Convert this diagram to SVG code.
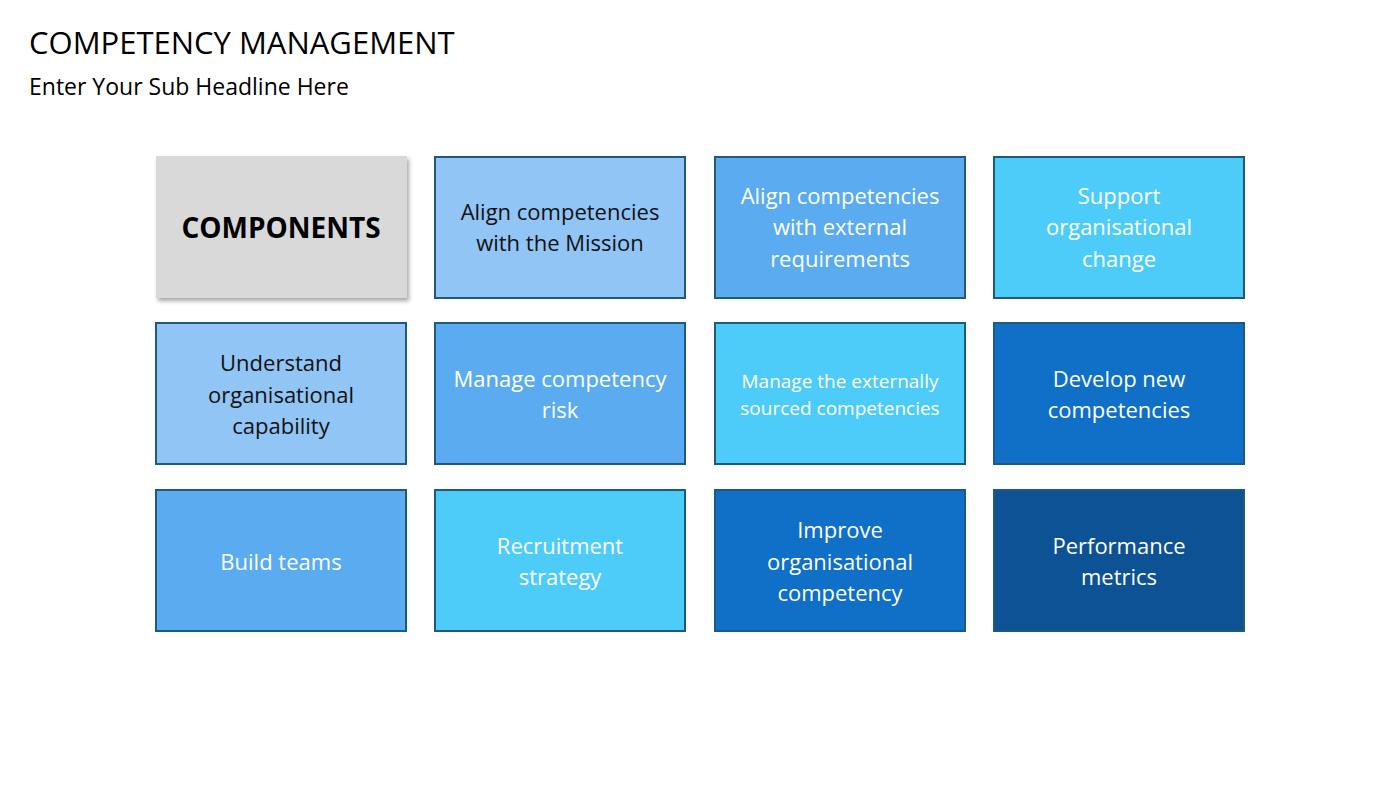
<svg xmlns="http://www.w3.org/2000/svg" width="1400" height="788" viewBox="0 0 1400 788">
<style>
text{font-family:"Open Sans","Liberation Sans",sans-serif;text-anchor:middle}
.b{stroke:#1d5a7c;stroke-width:2}
.t{font-size:22px;fill:#fff}
.d{font-size:22px;fill:#111}
</style>
<defs>
<filter id="sh" x="-10%" y="-10%" width="120%" height="125%"><feDropShadow dx="2" dy="3" stdDeviation="2" flood-color="#000" flood-opacity="0.35"/></filter>
<filter id="in"><feGaussianBlur stdDeviation="0"/></filter>
</defs>
<rect width="1400" height="788" fill="#fff"/>
<text x="29" y="54" style="text-anchor:start;font-size:31px;fill:#000">COMPETENCY MANAGEMENT</text>
<text x="29" y="95" style="text-anchor:start;font-size:23px;fill:#000">Enter Your Sub Headline Here</text>
<g id="n0"><rect x="156" y="156" width="251" height="142" fill="#d9d9d9" filter="url(#sh)"/><text x="281" y="238" style="font-size:28px;font-weight:bold;fill:#000">COMPONENTS</text></g>
<g id="n1"><rect x="435" y="157" width="250" height="141" fill="#91c5f5" class="b"/><text class="d" x="560" y="220">Align competencies</text><text class="d" x="560" y="251">with the Mission</text></g>
<g id="n2"><rect x="715" y="157" width="250" height="141" fill="#5aabf0" class="b"/><text class="t" x="840" y="204">Align competencies</text><text class="t" x="840" y="235">with external</text><text class="t" x="840" y="267">requirements</text></g>
<g id="n3"><rect x="994" y="157" width="250" height="141" fill="#4dccfa" class="b"/><text class="t" x="1119" y="204">Support</text><text class="t" x="1119" y="235">organisational</text><text class="t" x="1119" y="267">change</text></g>
<g id="n4"><rect x="156" y="323" width="250" height="141" fill="#91c5f5" class="b"/><text class="d" x="281" y="371">Understand</text><text class="d" x="281" y="403">organisational</text><text class="d" x="281" y="434">capability</text></g>
<g id="n5"><rect x="435" y="323" width="250" height="141" fill="#5aabf0" class="b"/><text class="t" x="560" y="387">Manage competency</text><text class="t" x="560" y="418">risk</text></g>
<g id="n6"><rect x="715" y="323" width="250" height="141" fill="#4dccfa" class="b"/><text class="t" x="840" y="388" style="font-size:19px">Manage the externally</text><text class="t" x="840" y="415" style="font-size:19px">sourced competencies</text></g>
<g id="n7"><rect x="994" y="323" width="250" height="141" fill="#1070c8" class="b"/><text class="t" x="1119" y="387">Develop new</text><text class="t" x="1119" y="418">competencies</text></g>
<g id="n8"><rect x="156" y="490" width="250" height="141" fill="#5aabf0" class="b"/><text class="t" x="281" y="570">Build teams</text></g>
<g id="n9"><rect x="435" y="490" width="250" height="141" fill="#4dccfa" class="b"/><text class="t" x="560" y="554">Recruitment</text><text class="t" x="560" y="585">strategy</text></g>
<g id="n10"><rect x="715" y="490" width="250" height="141" fill="#1070c8" class="b"/><text class="t" x="840" y="538">Improve</text><text class="t" x="840" y="570">organisational</text><text class="t" x="840" y="601">competency</text></g>
<g id="n11"><rect x="994" y="490" width="250" height="141" fill="#0e5296" class="b"/><text class="t" x="1119" y="554">Performance</text><text class="t" x="1119" y="585">metrics</text></g>
<g id="connectors"></g>
</svg>
